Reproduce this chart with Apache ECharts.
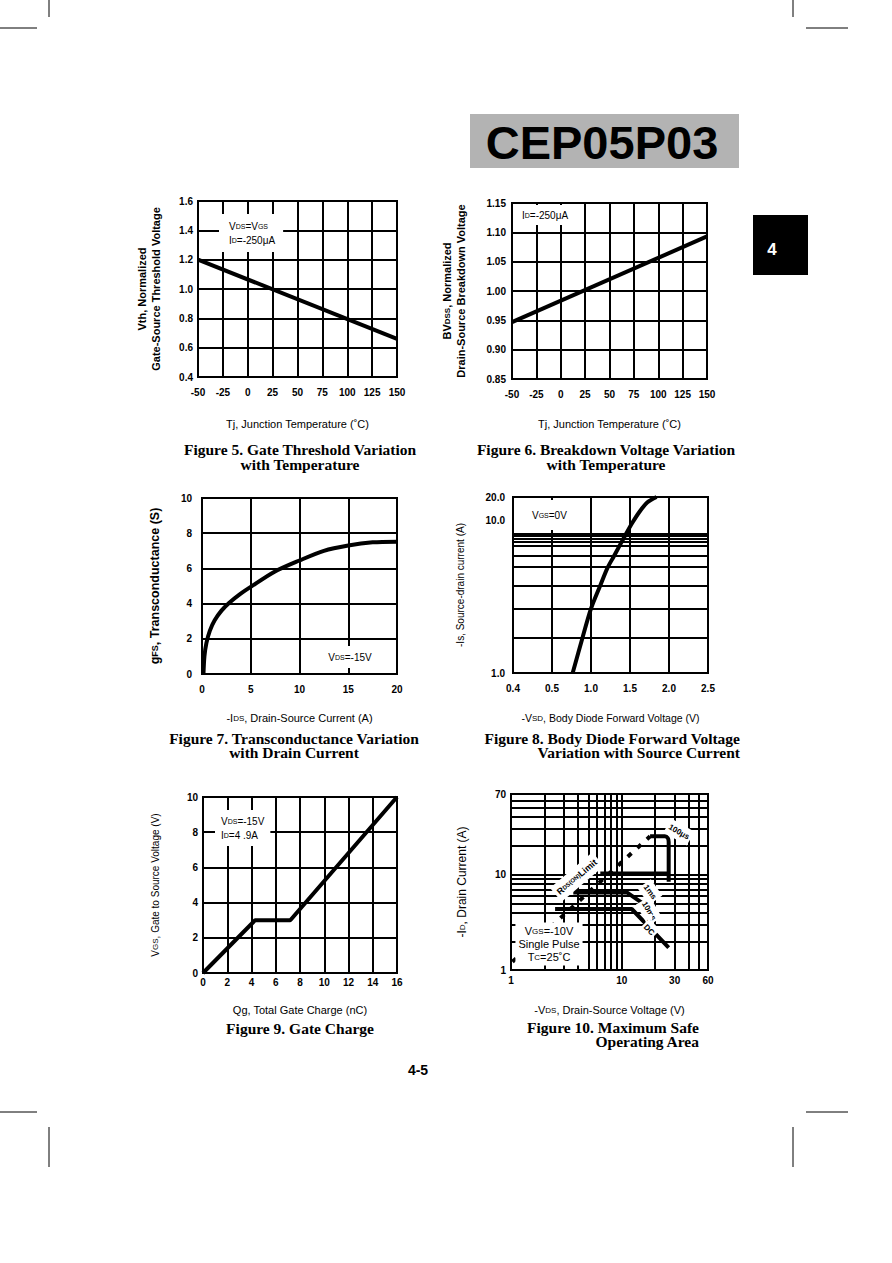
<!DOCTYPE html>
<html><head><meta charset="utf-8">
<script src="https://cdn.jsdelivr.net/npm/echarts@6/dist/echarts.min.js"></script>
<style>html,body{margin:0;padding:0;background:#fff}#c{width:892px;height:1263px}</style>
</head><body><div id="c"></div>
<script>
// ---------- DATA ----------
// Figure 5. Gate Threshold Variation with Temperature
const fig5TempC = [-50, 150];
const fig5Vth = [1.2, 0.66];
// Figure 6. Breakdown Voltage Variation with Temperature
const fig6TempC = [-50, 150];
const fig6BVdss = [0.947, 1.093];
// Figure 7. Transconductance Variation with Drain Current
const fig7Ids = [0.15, 0.25, 0.45, 0.8, 1.3, 2.0, 2.8, 3.8, 5, 7.4, 10, 12.5, 15, 17.5, 20];
const fig7Gfs = [0, 1.0, 1.75, 2.45, 3.05, 3.6, 4.05, 4.5, 4.95, 5.8, 6.45, 7.0, 7.3, 7.48, 7.52];
// Figure 8. Body Diode Forward Voltage Variation with Source Current
const fig8Vsd = [0.765, 0.893, 1.0, 1.12, 1.21, 1.29, 1.37, 1.45, 1.53, 1.62, 1.72, 1.84];
const fig8Is = [1.0, 1.84, 2.99, 4.45, 5.96, 7.24, 8.81, 10.7, 12.9, 15.5, 18.2, 20.0];
const fig8XLabels = ['0.4', '0.5', '1.0', '1.5', '2.0', '2.5'];
const fig8YGrid = [1.82, 2.97, 4.42, 6.05, 7.36, 8.72, 9.35, 9.9, 10.35, 10.78];
const fig8YLabels = [1, 10, 20];
// Figure 9. Gate Charge
const fig9Qg = [0, 4.3, 7.2, 16];
const fig9Vgs = [0, 3, 3, 10];
// Figure 10. Maximum Safe Operating Area
const fig10RdsV = [1.03, 18];
const fig10RdsI = [1.22, 25.2];
const fig10T100usV = [18, 24.5, 26, 26.5, 26.5];
const fig10T100usI = [25.2, 25.2, 24.2, 22, 8.4];
const fig10T1msV = [6.4, 26.5];
const fig10T1msI = [10.3, 10.3];
const fig10T10msV = [3.65, 11.1, 17.2];
const fig10T10msI = [6.5, 6.5, 4.6];
const fig10DcV = [2.5, 12.3, 26.5];
const fig10DcI = [4.36, 4.36, 1.72];
const fig10XGrid = [1, 2, 3, 4, 5, 6, 7, 8, 9, 10, 20, 30, 40, 50, 60];
const fig10XLabels = [1, 10, 30, 60];
const fig10YGrid = [1, 2, 3, 4, 5, 6, 7, 8, 9, 10, 20, 30, 40, 50, 60, 70];
const fig10YLabels = [1, 10, 70];

// ---------- CHART ----------
const SANS = '"Liberation Sans", Arial, Helvetica, sans-serif';
const SERIF = '"Liberation Serif", "Times New Roman", serif';
const zip = (a, b) => a.map((v, i) => [v, b[i]]);
const chart = echarts.init(document.getElementById('c'), null, {renderer: 'svg'});

const gridLine = {show: true, lineStyle: {color: '#000', width: 2}};
const subRich = {s: {fontSize: 8}};

function axis(gridIndex, o) {
  const base = {
    gridIndex,
    axisLine: {show: false},
    axisTick: {show: false},
    splitLine: gridLine,
    nameLocation: 'middle',
    axisLabel: {color: '#000', fontFamily: SANS, fontSize: 10, fontWeight: 'bold', margin: o.margin == null ? 8 : o.margin},
    nameTextStyle: Object.assign({color: '#000', fontFamily: SANS, fontSize: 11, lineHeight: 14, rich: subRich}, o.nameStyle || {})
  };
  if (o.formatter) base.axisLabel.formatter = o.formatter;
  if (o.rich) base.axisLabel.rich = o.rich;
  if (o.labelValues) base.axisLabel.customValues = o.labelValues;
  if (o.tickValues) base.axisTick.customValues = o.tickValues;
  delete o.margin; delete o.nameStyle; delete o.formatter; delete o.rich; delete o.labelValues; delete o.tickValues;
  return Object.assign(base, o);
}

function line(i, data, extra) {
  return Object.assign({
    type: 'line', xAxisIndex: i, yAxisIndex: i, data,
    showSymbol: false, symbol: 'none', silent: true, z: 3,
    lineStyle: {color: '#000', width: 4}
  }, extra || {});
}

const T = (x, y, text, st, extra) => Object.assign({
  type: 'text', x, y, z: 100,
  style: Object.assign({text, x: 0, y: 0, fill: '#000', align: 'center', verticalAlign: 'middle',
    fontFamily: SANS, fontSize: 11}, st || {})
}, extra || {});

function note(x, y, text, o) {
  o = o || {};
  const fs = o.fs || 10;
  return T(x, y, text, {
    align: o.align || 'left', fontSize: fs, fontWeight: o.fw || 'normal',
    backgroundColor: '#fff', padding: o.pad || [2, 3], lineHeight: o.lh || 14,
    rich: {s: {fontSize: Math.round(fs * 0.72), fontFamily: SANS, fontWeight: o.fw || 'normal', fill: '#000', lineHeight: o.lh || 14}}
  }, {rotation: o.rot || 0});
}

const L = (x1, y1, x2, y2) => ({type: 'line', shape: {x1, y1, x2, y2}, style: {stroke: '#000', lineWidth: 1}, z: 100});
const CAPSTYLE = {fontFamily: SERIF, fontWeight: 'bold', fontSize: 15.5, lineHeight: 14.5};
const cap = (x, y, text, align) => T(x, y, text, Object.assign({align: align || 'center'}, CAPSTYLE));

const option = {
  animation: false,
  backgroundColor: '#fff',
  grid: [
    {left: 198, top: 201, width: 199, height: 176},
    {left: 512, top: 203, width: 195, height: 176},
    {left: 202, top: 498, width: 195, height: 176},
    {left: 513, top: 497, width: 195, height: 176},
    {left: 203, top: 797, width: 194, height: 176},
    {left: 511, top: 794, width: 197, height: 176}
  ].map(g => Object.assign({show: true, borderColor: '#000', borderWidth: 2}, g)),
  xAxis: [
    axis(0, {type: 'value', min: -50, max: 150, interval: 25, margin: 10,
      name: 'Tj, Junction Temperature (˚C)', nameGap: 40}),
    axis(1, {type: 'value', min: -50, max: 150, interval: 25, margin: 10,
      name: 'Tj, Junction Temperature (˚C)', nameGap: 38}),
    axis(2, {type: 'value', min: 0, max: 20, interval: 5, margin: 10,
      name: '-I{s|DS}, Drain-Source Current (A)', nameGap: 37}),
    axis(3, {type: 'value', min: 0, max: 2.5, interval: 0.5, margin: 10,
      formatter: v => fig8XLabels[Math.round(v / 0.5)],
      name: '-V{s|SD}, Body Diode Forward Voltage (V)', nameGap: 38, nameStyle: {fontSize: 10.5}}),
    axis(4, {type: 'value', min: 0, max: 16, interval: 2, margin: 4,
      name: 'Qg, Total Gate Charge (nC)', nameGap: 30}),
    axis(5, {type: 'log', logBase: 10, min: 1, max: 60, margin: 5,
      tickValues: fig10XGrid, labelValues: fig10XLabels,
      name: '-V{s|DS}, Drain-Source Voltage (V)', nameGap: 33})
  ],
  yAxis: [
    axis(0, {type: 'value', min: 0.4, max: 1.6, interval: 0.2, margin: 5,
      formatter: v => v.toFixed(1),
      name: 'Vth, Normalized\nGate-Source Threshold Voltage', nameGap: 35,
      nameStyle: {fontWeight: 'bold'}}),
    axis(1, {type: 'value', min: 0.85, max: 1.15, interval: 0.05, margin: 6,
      formatter: v => v.toFixed(2),
      name: 'BV{s|DSS}, Normalized\nDrain-Source Breakdown Voltage', nameGap: 44,
      nameStyle: {fontWeight: 'bold', rich: {s: {fontSize: 8, fontWeight: 'bold'}}}}),
    axis(2, {type: 'value', min: 0, max: 10, interval: 2, margin: 10,
      name: 'g{s|FS}, Transconductance (S)', nameGap: 40,
      nameStyle: {fontWeight: 'bold', fontSize: 12.5, rich: {s: {fontSize: 9, fontWeight: 'bold'}}}}),
    axis(3, {type: 'log', logBase: 10, min: 1, max: 20, margin: 8,
      tickValues: fig8YGrid.concat([1, 20]), labelValues: fig8YLabels,
      formatter: v => Math.abs(v - 10) < 0.01 ? '{hi|10.0}' : v.toFixed(1),
      rich: {hi: {padding: [0, 0, 34, 0], fontSize: 10, fontWeight: 'bold', fontFamily: SANS}},
      name: '-Is, Source-drain current (A)', nameGap: 46, nameStyle: {fontSize: 10}}),
    axis(4, {type: 'value', min: 0, max: 10, interval: 2, margin: 5,
      name: 'V{s|GS}, Gate to Source Voltage (V)', nameGap: 41, nameStyle: {fontSize: 10}}),
    axis(5, {type: 'log', logBase: 10, min: 1, max: 70, margin: 5,
      tickValues: fig10YGrid, labelValues: fig10YLabels,
      name: '-I{s|D}, Drain Current (A)', nameGap: 42, nameStyle: {fontSize: 12}})
  ],
  series: [
    line(0, zip(fig5TempC, fig5Vth)),
    line(1, zip(fig6TempC, fig6BVdss)),
    line(2, zip(fig7Ids, fig7Gfs), {smooth: 0.3}),
    line(3, zip(fig8Vsd, fig8Is), {smooth: 0.3}),
    line(4, zip(fig9Qg, fig9Vgs)),
    line(5, zip(fig10RdsV, fig10RdsI), {lineStyle: {color: '#000', width: 4, type: [5, 8]}}),
    line(5, zip(fig10T100usV, fig10T100usI), {smooth: 0.2}),
    line(5, zip(fig10T1msV, fig10T1msI)),
    line(5, zip(fig10T10msV, fig10T10msI)),
    line(5, zip(fig10DcV, fig10DcI))
  ],
  graphic: [
    // crop marks
    L(0, 28, 37, 28), L(49, 0, 49, 17), L(793, 0, 793, 17), L(806, 28, 848, 28),
    L(0, 1112, 37, 1112), L(49, 1127, 49, 1167), L(793, 1127, 793, 1167), L(806, 1112, 848, 1112),
    // title box
    {type: 'rect', shape: {x: 470, y: 114, width: 269, height: 54}, style: {fill: '#b3b3b3'}, z: 90},
    T(602, 142, 'CEP05P03', {fontSize: 47, fontWeight: 'bold'}),
    // section tab
    {type: 'rect', shape: {x: 753, y: 215, width: 55, height: 60}, style: {fill: '#000'}, z: 90},
    T(772, 249, '4', {fill: '#fff', fontSize: 17, fontWeight: 'bold'}),
    // captions
    cap(300, 457, 'Figure 5. Gate Threshold Variation\nwith Temperature'),
    cap(606, 457, 'Figure 6. Breakdown Voltage Variation\nwith Temperature'),
    cap(294, 745.5, 'Figure 7. Transconductance Variation\nwith Drain Current'),
    cap(740, 745.5, 'Figure 8. Body Diode Forward Voltage\nVariation with Source Current', 'right'),
    cap(300, 1028, 'Figure 9. Gate Charge'),
    cap(699, 1034.5, 'Figure 10. Maximum Safe\nOperating Area', 'right'),
    T(418, 1070, '4-5', {fontSize: 14, fontWeight: 'bold'}),
    // in-plot notes
    note(219, 233, 'V{s|DS}=V{s|GS}\nI{s|D}=-250μA', {pad: [5, 8, 5, 10]}),
    note(517, 215, 'I{s|D}=-250μA', {pad: [3, 4, 3, 5]}),
    note(350, 657, 'V{s|DS}=-15V', {align: 'center', pad: [4, 6]}),
    note(524, 515, 'V{s|GS}=0V', {pad: [8, 8, 8, 8]}),
    note(215, 828, 'V{s|DS}=-15V\nI{s|D}=4 .9A', {pad: [4, 6, 4, 6]}),
    note(549, 944, 'V{s|GS}=-10V\nSingle Pulse\nT{s|C}=25˚C', {align: 'center', fs: 11, lh: 13, pad: [2, 3]}),
    note(577, 877, 'R{s|DS(ON)}Limit', {align: 'center', fs: 9, fw: 'bold', pad: [2, 3], rot: 0.70}),
    note(679, 832, '100μs', {align: 'center', fs: 8, fw: 'bold', pad: [1, 2], rot: -0.52}),
    note(650, 892, '1ms', {align: 'center', fs: 8, fw: 'bold', pad: [1, 2], rot: -0.96}),
    note(649, 911, '10ms', {align: 'center', fs: 8, fw: 'bold', pad: [1, 2], rot: -1.05}),
    note(649, 921, '×', {align: 'center', fs: 8, fw: 'bold', pad: [0, 1]}),
    note(649, 930, 'DC', {align: 'center', fs: 8, fw: 'bold', pad: [1, 2], rot: -0.8})
  ]
};
chart.setOption(option);
</script>
</body></html>
